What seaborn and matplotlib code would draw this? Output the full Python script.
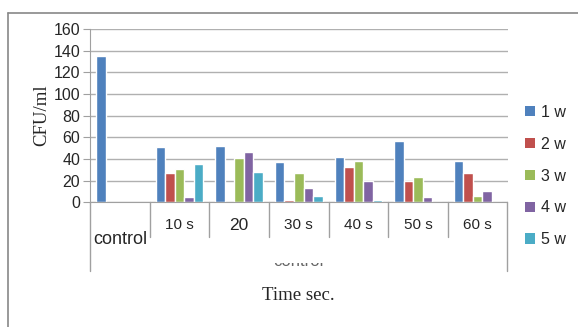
import numpy as np
import pandas as pd
import seaborn as sns
import matplotlib.pyplot as plt
from matplotlib.lines import Line2D
from matplotlib.patches import Patch
from matplotlib.transforms import Bbox, blended_transform_factory

# data
groups = ['control', '10 s', '20', '30 s', '40 s', '50 s', '60 s']
series = ['1 w', '2 w', '3 w', '4 w', '5 w']
w1 = [135, 51, 52, 37, 42, 57, 38]
w2 = [np.nan, 27, 0, 2, 33, 20, 27]
w3 = [np.nan, 31, 41, 27, 38, 23, 6]
w4 = [np.nan, 5, 46, 13, 20, 5, 10]
w5 = [np.nan, 35, 28, 6, 2, 0, 0]
colors = ['#4F81BD', '#C0504D', '#9BBB59', '#8064A2', '#4BACC6']

rows = []
for s, vals in zip(series, [w1, w2, w3, w4, w5]):
    for g, v in zip(groups, vals):
        rows.append((g, s, v))
df = pd.DataFrame(rows, columns=['time', 'week', 'cfu'])

sns.set_style('white')
plt.rcParams['font.family'] = ['Liberation Sans', 'DejaVu Sans']

W, H = 578, 327
fig = plt.figure(figsize=(W / 100, H / 100), dpi=100)
ax = fig.add_axes([90 / W, 1 - 202.3 / H, (507.5 - 90) / W, (202.3 - 29) / H])

sns.barplot(data=df, x='time', y='cfu', hue='week', order=groups, hue_order=series,
            palette=colors, width=0.8, saturation=1, ax=ax, legend=False)

ax.set_ylim(0, 160)
ax.set_xlim(-0.5, 6.5)
ax.set_yticks(range(0, 161, 20))
ax.yaxis.grid(True, color='#b0b0b0', linewidth=1)
ax.set_axisbelow(True)
for sp in ['top', 'right']:
    ax.spines[sp].set_visible(False)
ax.spines['left'].set_color('#a0a0a0')
ax.spines['bottom'].set_color('#a0a0a0')
ax.tick_params(axis='y', left=True, length=5, color='#a0a0a0', labelsize=11.5, pad=2)
ax.set_xticks([])
ax.set_xlabel('')
ax.set_ylabel('CFU/ml', family='Liberation Serif', fontsize=13.5, labelpad=2)

# category dividers below the axis
tr = blended_transform_factory(ax.transData, ax.transAxes)
for i in range(8):
    xb = i - 0.5
    lo = -0.397 if i in (0, 7) else -0.2
    ax.add_line(Line2D([xb, xb], [0, lo], transform=tr, color='#a0a0a0',
                       linewidth=1, clip_on=False))

for i, g in enumerate(groups):
    if g == 'control':
        ax.text(i - 0.45, -0.212, g, transform=tr, fontsize=13, ha='left', va='center')
    elif g == '20':
        ax.text(i, -0.131, g, transform=tr, fontsize=12.5, ha='center', va='center')
    else:
        ax.text(i, -0.131, g, transform=tr, fontsize=11, ha='center', va='center')

# partially hidden second-level label
t = fig.text(298 / W, 1 - 266.5 / H, 'control', fontsize=12, ha='center', va='baseline',
             color='#666666')
t.set_clip_on(True)
t.set_clip_box(Bbox.from_extents(0, H - 266.5, W, H - 262.5))

fig.text(298 / W, 1 - 296 / H, 'Time sec.', family='Liberation Serif', fontsize=13.5,
         ha='center', va='center')

handles = [Patch(facecolor=c, edgecolor='none') for c in colors]
fig.legend(handles, series, loc='upper left', bbox_to_anchor=(517 / W, 1 - 97 / H),
           frameon=False, fontsize=11.5, handlelength=0.6, handleheight=0.6,
           handletextpad=0.4, labelspacing=1.05, borderpad=0)

# outer chart border
fig.add_artist(Line2D([8 / W, 1], [1 - 13 / H, 1 - 13 / H], color='#888888', linewidth=1.2))
fig.add_artist(Line2D([8 / W, 8 / W], [0, 1 - 13 / H], color='#888888', linewidth=1.2))

fig.savefig('out.png', dpi=100)
